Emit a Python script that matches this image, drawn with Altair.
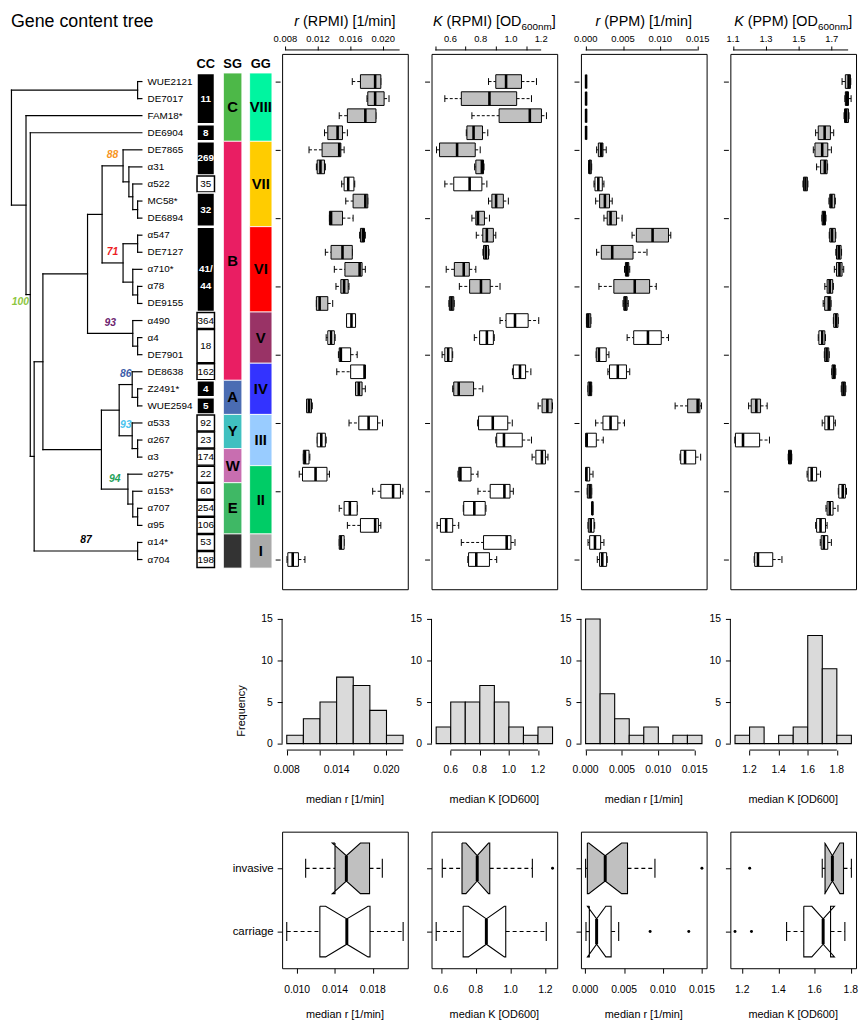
import math
import altair as alt
import pandas as pd

FONT = "Liberation Sans, Arial, Helvetica, sans-serif"
BOXGRAY = "#c0c0c0"
HISTGRAY = "#dadada"

# ------------------------------------------------------------------ strains
strains = ["WUE2121", "DE7017", "FAM18*", "DE6904", "DE7865", "α31", "α522", "MC58*",
           "DE6894", "α547", "DE7127", "α710*", "α78", "DE9155", "α490", "α4", "DE7901",
           "DE8638", "Z2491*", "WUE2594", "α533", "α267", "α3", "α275*", "α153*", "α707",
           "α95", "α14*", "α704"]
invasive = [1, 1, 1, 1, 1, 1, 0, 1, 1, 1, 1, 1, 1, 1, 0, 0, 0, 0, 1, 1, 0, 0, 0, 0, 0, 0, 0, 0, 0]

# ------------------------------------------------------------------ r (RPMI)
rR_lo = [.0162, .0180, .0146, .0128, .0109, .0118, .0149, .0154, .0134, .0171, .0129, .0140, .0142, .0118, .0155,
         .0130, .0145, .0143, .0166, .0106, .0158, .0119, .0102, .0097, .0187, .0146, .0156, .0146, .0082]
rR_q1 = [.0172, .0181, .0156, .0132, .0125, .0119, .0152, .0163, .0134, .0172, .0136, .0153, .0148, .0118, .0155,
         .0132, .0146, .0160, .0166, .0106, .0170, .0119, .0102, .0101, .0197, .0152, .0172, .0146, .0083]
rR_med = [.0190, .0190, .0178, .0144, .0146, .0123, .0157, .0178, .0136, .0175, .0150, .0171, .0152, .0122, .0161,
          .0136, .0148, .0177, .0170, .0109, .0182, .0124, .0104, .0117, .0212, .0159, .0190, .0148, .0089]
rR_q3 = [.0197, .0201, .0191, .0150, .0148, .0128, .0164, .0181, .0150, .0177, .0162, .0174, .0157, .0132, .0166,
         .0140, .0160, .0178, .0174, .0112, .0193, .0129, .0109, .0131, .0221, .0168, .0194, .0152, .0096]
rR_hi = [.0197, .0207, .0191, .0156, .0152, .0129, .0165, .0181, .0163, .0178, .0162, .0178, .0158, .0138, .0166,
         .0141, .0168, .0178, .0178, .0113, .0199, .0130, .0110, .0134, .0224, .0168, .0197, .0152, .0104]

# ------------------------------------------------------------------ K (RPMI)
kR_lo = [.852, .563, .742, .705, .508, .760, .563, .852, .742, .771, .815, .572, .659, .590, .928,
         .758, .545, 1.010, .615, 1.180, .780, .900, 1.140, .650, .782, .685, .512, .672, .715]
kR_q1 = [.900, .672, .922, .709, .528, .768, .622, .874, .768, .814, .819, .626, .727, .593, .968,
         .793, .563, 1.016, .622, 1.206, .786, .906, 1.165, .655, .863, .688, .534, .819, .720]
kR_med = [.968, .858, 1.125, .753, .644, .808, .727, .902, .782, .841, .834, .688, .802, .607, 1.027,
          .841, .585, 1.060, .655, 1.241, .880, .954, 1.205, .666, .957, .758, .572, .972, .771]
kR_q3 = [1.070, 1.038, 1.202, .812, .764, .819, .808, .950, .825, .884, .852, .725, .863, .622, 1.114,
         .884, .611, 1.097, .753, 1.272, .979, 1.075, 1.228, .736, .994, .830, .615, 1.000, .858]
kR_hi = [1.169, 1.136, 1.235, .847, .797, .822, .841, .983, .858, .900, .855, .768, .928, .625, 1.184,
         .890, .615, 1.132, .814, 1.275, 1.009, 1.136, 1.245, .782, 1.016, .835, .655, 1.027, .906]

# ------------------------------------------------------------------ r (PPM)
rP_lo = [0, 0, 0, 0, .00146, .0004, .00111, .00133, .00244, .00621, .00146, .0052, .00177, .0050, .0001,
         .00555, .0014, .00297, .0003, .01198, .00133, 0, .01264, 0, .0002, .00084, .0003, .00031, .00155]
rP_q1 = [.00002, .00002, .00002, .00002, .00169, .00044, .00124, .00186, .00288, .00679, .00209, .00532, .00377,
         .0051, .0001, .00643, .00142, .00319, .00031, .01366, .00231, 0, .01273, 0, .00022, .00084, .00035,
         .00053, .00186]
rP_med = [.00005, .00005, .00005, .00005, .00209, .0005, .00169, .00257, .00333, .00896, .00355, .00555, .00657,
          .00532, .00035, .00834, .00177, .0043, .00058, .0150, .00333, .00013, .01331, .0001, .00053, .00089,
          .00067, .00124, .00222]
rP_q3 = [.00008, .00008, .00008, .00008, .00231, .00075, .00222, .00319, .00413, .01109, .00634, .00577, .00856,
         .00555, .00067, .01012, .00275, .00546, .0008, .0153, .0043, .00142, .01473, .00053, .0008, .00093,
         .00111, .0020, .0028]
rP_hi = [.0001, .0001, .0001, .0001, .00275, .0008, .00244, .00355, .00488, .0114, .00821, .0059, .00945,
         .0057, .0007, .01109, .00311, .0059, .0008, .01552, .00519, .00235, .0154, .00098, .0008, .00093,
         .0012, .00244, .00288]

# ------------------------------------------------------------------ K (PPM)
kP_lo = [1.763, 1.780, 1.775, 1.602, 1.588, 1.608, 1.525, 1.683, 1.640, 1.685, 1.725, 1.716, 1.658, 1.648, 1.710,
         1.618, 1.655, 1.700, 1.758, 1.194, 1.642, 1.110, 1.435, 1.550, 1.740, 1.665, 1.602, 1.630, 1.228]
kP_q1 = [1.783, 1.783, 1.778, 1.618, 1.598, 1.632, 1.528, 1.688, 1.642, 1.688, 1.729, 1.729, 1.672, 1.657, 1.712,
         1.622, 1.657, 1.702, 1.761, 1.210, 1.658, 1.114, 1.437, 1.556, 1.743, 1.672, 1.608, 1.636, 1.231]
kP_med = [1.803, 1.792, 1.788, 1.657, 1.642, 1.658, 1.540, 1.698, 1.652, 1.702, 1.743, 1.747, 1.688, 1.682, 1.726,
          1.642, 1.669, 1.712, 1.772, 1.241, 1.682, 1.160, 1.445, 1.578, 1.767, 1.688, 1.632, 1.652, 1.251]
kP_q3 = [1.814, 1.802, 1.802, 1.692, 1.676, 1.672, 1.552, 1.718, 1.662, 1.722, 1.757, 1.763, 1.706, 1.694, 1.738,
         1.658, 1.682, 1.722, 1.783, 1.267, 1.712, 1.261, 1.455, 1.608, 1.783, 1.708, 1.662, 1.676, 1.341]
kP_hi = [1.816, 1.818, 1.805, 1.712, 1.698, 1.675, 1.555, 1.722, 1.665, 1.725, 1.760, 1.773, 1.710, 1.696, 1.740,
         1.662, 1.685, 1.725, 1.786, 1.307, 1.722, 1.321, 1.457, 1.632, 1.790, 1.738, 1.672, 1.698, 1.397]

# ------------------------------------------------------------------ histograms of medians
h1_breaks = [0.008, 0.010, 0.012, 0.014, 0.016, 0.018, 0.020, 0.022]
h1_counts = [1, 3, 5, 8, 7, 4, 1]
h2_breaks = [0.5, 0.6, 0.7, 0.8, 0.9, 1.0, 1.1, 1.2, 1.3]
h2_counts = [2, 5, 5, 7, 5, 2, 1, 2]
h3_breaks = [0.0, 0.002, 0.004, 0.006, 0.008, 0.010, 0.012, 0.014, 0.016]
h3_counts = [15, 6, 3, 1, 2, 0, 1, 1]
h4_breaks = [1.1, 1.2, 1.3, 1.4, 1.5, 1.6, 1.7, 1.8, 1.9]
h4_counts = [1, 2, 0, 1, 2, 13, 9, 1]

# ------------------------------------------------------------------ invasive vs carriage (order: invasive, carriage)
b1_lo = [0.0109, 0.0089]; b1_q1 = [0.0140, 0.0124]; b1_med = [0.0152, 0.01525]
b1_q3 = [0.01765, 0.0177]; b1_hi = [0.0190, 0.0212]; b1_out = [[], []]
b2_lo = [0.607, 0.572]; b2_q1 = [0.7205, 0.727]; b2_med = [0.808, 0.8605]
b2_q3 = [0.880, 0.972]; b2_hi = [1.125, 1.205]; b2_out = [[1.241], []]
b3_lo = [0.00005, 0.0001]; b3_q1 = [0.000275, 0.00053]; b3_med = [0.00257, 0.001465]
b3_q3 = [0.005435, 0.00333]; b3_hi = [0.00896, 0.0043]; b3_out = [[0.0150], [0.00834, 0.01331]]
b4_lo = [1.642, 1.445]; b4_q1 = [1.6575, 1.540]; b4_med = [1.698, 1.647]
b4_q3 = [1.7595, 1.688]; b4_hi = [1.803, 1.767]; b4_out = [[1.241], [1.160, 1.251]]
group_n = [15, 14]

# ------------------------------------------------------------------ gene content tree
tree_nodes = [  # name, node depth (x), children
    ("root", 3.3, ["nWD", "nRest"]),
    ("nWD", 133.3, ["WUE2121", "DE7017"]),
    ("nRest", 18.3, ["FAM18*", "nC"]),
    ("nC", 22.7, ["DE6904", "nX"]),
    ("nX", 26.7, ["nY", "n87"]),
    ("nY", 35.7, ["nZ", "nP"]),
    ("nZ", 81.7, ["nV", "nU"]),
    ("nV", 96.7, ["n88", "n71"]),
    ("n88", 118.3, ["DE7865", "n31"]),
    ("n31", 124.3, ["α31", "n522"]),
    ("n522", 128.3, ["α522", "nMD"]),
    ("nMD", 133.3, ["MC58*", "DE6894"]),
    ("n71", 118.3, ["nAD", "n710"]),
    ("nAD", 133.3, ["α547", "DE7127"]),
    ("n710", 128.3, ["α710*", "n78"]),
    ("n78", 133.3, ["α78", "DE9155"]),
    ("nU", 128.3, ["α490", "n4"]),
    ("n4", 133.3, ["α4", "DE7901"]),
    ("nP", 96.0, ["nQ", "nS"]),
    ("nQ", 114.3, ["nT", "nR"]),
    ("nT", 127.7, ["DE8638", "nZW"]),
    ("nZW", 133.3, ["Z2491*", "WUE2594"]),
    ("nR", 127.7, ["α533", "n267"]),
    ("n267", 133.3, ["α267", "α3"]),
    ("nS", 123.3, ["α275*", "n153"]),
    ("n153", 128.3, ["α153*", "n707"]),
    ("n707", 133.3, ["α707", "α95"]),
    ("n87", 133.3, ["α14*", "α704"]),
]
leaf_tip = 137.7
boot_node = ["n88", "n71", "nC", "nU", "nT", "nR", "nS", "n87"]
boot_text = ["88", "71", "100", "93", "86", "93", "94", "87"]
boot_color = ["#f7941d", "#ed1c24", "#8dc63f", "#6d2470", "#3b5ba9", "#4cc3ee", "#1fa25a", "#000000"]

cc_start = [1, 4, 5, 7, 8, 10, 15, 16, 18, 19, 20, 21, 22, 23, 24, 25, 26, 27, 28, 29]
cc_end = [3, 4, 6, 7, 9, 14, 15, 17, 18, 19, 20, 21, 22, 23, 24, 25, 26, 27, 28, 29]
cc_text = ["11", "8", "269", "35", "32", "41/\n44", "364", "18", "162", "4", "5", "92", "23", "174",
           "22", "60", "254", "106", "53", "198"]
cc_dark = [1, 1, 1, 0, 1, 1, 0, 0, 0, 1, 1, 0, 0, 0, 0, 0, 0, 0, 0, 0]

sg_start = [1, 5, 19, 21, 23, 25, 28]
sg_end = [4, 18, 20, 22, 24, 27, 29]
sg_text = ["C", "B", "A", "Y", "W", "E", ""]
sg_color = ["#4db848", "#e91e63", "#4a6cb3", "#40c0c0", "#c86eb0", "#3fb865", "#333333"]

gg_start = [1, 5, 10, 15, 18, 21, 24, 28]
gg_end = [4, 9, 14, 17, 20, 23, 27, 29]
gg_text = ["VIII", "VII", "VI", "V", "IV", "III", "II", "I"]
gg_color = ["#00f5a0", "#ffcc00", "#ff0000", "#993366", "#3333ff", "#99ccff", "#00cc66", "#aaaaaa"]

# ================================================================== layout constants
ROWS = list(range(1, 30))
ROW_DOMAIN = [-0.62, 30.74]
TOP_H = 541
PW = 127
TREE_W = 250
TREE_XDOM = [2.8, 257.7]
HIST_H = 185
HIST_YDOM = [-7.02, 15]
HIST_ZERO_PX = HIST_H * 15 / (15 - HIST_YDOM[0])
HIST_AXIS_PX = HIST_ZERO_PX + 6.5
BOT_H = 138
ONE = pd.DataFrame({"k": [0]})

AW = {" ": 278, "(": 333, ")": 333, "[": 278, "]": 278, "/": 278, "R": 722, "P": 667, "M": 833,
      "I": 278, "O": 778, "D": 722, "K": 667, "r": 333, "m": 833, "i": 222, "n": 556}


def tw(s, size):
    return sum(AW.get(ch, 556) for ch in s) * size / 1000.0


def text_layer(txt, x, y, size, weight="normal", style="normal", align="left",
               baseline="alphabetic", color="black", angle=0):
    return alt.Chart(ONE).mark_text(text=txt, align=align, baseline=baseline, fontSize=size, font=FONT,
                                    fontWeight=weight, fontStyle=style, color=color, angle=angle).encode(
        x=alt.value(x), y=alt.value(y))


def title_layers(pieces, width):
    sizes = {"it": 14.5, "rm": 14.5, "sub": 10.0}
    total = sum(tw(t, sizes[k]) for t, k in pieces)
    x = width / 2.0 - total / 2.0
    out = []
    for t, k in pieces:
        lead = len(t) - len(t.lstrip(" "))
        xs = x + tw(" " * lead, sizes[k])
        body = t.strip(" ")
        if body:
            out.append(text_layer(body, xs, -28.5 if k != "sub" else -24.5, sizes[k],
                                  style="italic" if k == "it" else "normal"))
        x += tw(t, sizes[k])
    return out


def tick_labels(labeled, fmt, y, size):
    df = pd.DataFrame({"v": labeled, "t": [format(v, fmt) for v in labeled]})
    return alt.Chart(df).mark_text(align="center", baseline="middle", fontSize=size, font=FONT,
                                   color="black").encode(x="v:Q", y=alt.value(y), text="t:N")


def y_rows():
    return alt.Scale(domain=ROW_DOMAIN, reverse=True, nice=False, zero=False)


# ================================================================== top box plot panels
def top_panel(lo, q1, med, q3, hi, domain, ticks, labeled, fmt, pieces):
    df = pd.DataFrame({"row": ROWS, "lo": lo, "q1": q1, "med": med, "q3": q3, "hi": hi,
                       "fill": [BOXGRAY if v else "white" for v in invasive]})
    df["b0"] = df["row"] - 0.4
    df["b1"] = df["row"] + 0.4
    df["c0"] = df["row"] - 0.2
    df["c1"] = df["row"] + 0.2
    xs = alt.Scale(domain=domain, nice=False, zero=False)
    xaxis = alt.Axis(orient="top", values=ticks, labels=False, domain=False, tickSize=4, offset=4,
                     title=None, grid=False)
    yaxis = alt.Axis(orient="left", values=ROWS, labels=False, domain=False, tickSize=5, offset=2,
                     title=None, grid=False)
    base = alt.Chart(df)
    w1 = base.mark_rule(strokeDash=[3, 2], color="black", strokeWidth=1).encode(
        x=alt.X("lo:Q", scale=xs, axis=xaxis), x2="q1:Q",
        y=alt.Y("row:Q", scale=y_rows(), axis=yaxis))
    w2 = base.mark_rule(strokeDash=[3, 2], color="black", strokeWidth=1).encode(
        x="q3:Q", x2="hi:Q", y="row:Q")
    c1 = base.mark_rule(color="black", strokeWidth=1).encode(x="lo:Q", y="c0:Q", y2="c1:Q")
    c2 = base.mark_rule(color="black", strokeWidth=1).encode(x="hi:Q", y="c0:Q", y2="c1:Q")
    box = base.mark_rect(stroke="black", strokeWidth=1).encode(
        x="q1:Q", x2="q3:Q", y="b0:Q", y2="b1:Q", fill=alt.Fill("fill:N", scale=None))
    md = base.mark_rule(color="black", strokeWidth=2.6).encode(x="med:Q", y="b0:Q", y2="b1:Q")
    axline = alt.Chart(pd.DataFrame({"a": [ticks[0]], "b": [ticks[-1]]})).mark_rule(
        color="black", strokeWidth=1).encode(x="a:Q", x2="b:Q", y=alt.value(-4))
    labels = tick_labels(labeled, fmt, -15.5, 9.5)
    layers = [w1, w2, c1, c2, box, md, axline, labels] + title_layers(pieces, PW)
    return alt.layer(*layers).properties(width=PW, height=TOP_H,
                                         view=alt.ViewBackground(stroke="black", strokeWidth=1))


p1 = top_panel(rR_lo, rR_q1, rR_med, rR_q3, rR_hi, [0.0076, 0.0230],
               [0.008, 0.010, 0.012, 0.014, 0.016, 0.018, 0.020, 0.022], [0.008, 0.012, 0.016, 0.020],
               ".3f", [("r", "it"), (" (RPMI) [1/min]", "rm")])
p2 = top_panel(kR_lo, kR_q1, kR_med, kR_q3, kR_hi, [0.475, 1.306],
               [0.5, 0.6, 0.7, 0.8, 0.9, 1.0, 1.1, 1.2], [0.6, 0.8, 1.0, 1.2],
               ".1f", [("K", "it"), (" (RPMI) [OD", "rm"), ("600nm", "sub"), ("]", "rm")])
p3 = top_panel(rP_lo, rP_q1, rP_med, rP_q3, rP_hi, [-0.00064, 0.0162],
               [0.0, 0.005, 0.010, 0.015], [0.0, 0.005, 0.010, 0.015],
               ".3f", [("r", "it"), (" (PPM) [1/min]", "rm")])
p4 = top_panel(kP_lo, kP_q1, kP_med, kP_q3, kP_hi, [1.083, 1.848],
               [1.1, 1.2, 1.3, 1.4, 1.5, 1.6, 1.7, 1.8], [1.1, 1.3, 1.5, 1.7],
               ".1f", [("K", "it"), (" (PPM) [OD", "rm"), ("600nm", "sub"), ("]", "rm")])

# ================================================================== tree panel
ypos = {s: float(i + 1) for i, s in enumerate(strains)}
xpos = {s: leaf_tip for s in strains}
node_map = {n: (x, ch) for n, x, ch in tree_nodes}
parent = {}
for n, x, ch in tree_nodes:
    for c in ch:
        parent[c] = n


def place(n):
    if n in ypos:
        return ypos[n]
    x, ch = node_map[n]
    ys = [place(c) for c in ch]
    ypos[n] = sum(ys) / len(ys)
    xpos[n] = x
    return ypos[n]


place("root")
segs = []
for n, x, ch in tree_nodes:
    ys = [ypos[c] for c in ch]
    segs.append((x, x, min(ys), max(ys)))
    for c in ch:
        segs.append((x, xpos[c], ypos[c], ypos[c]))
seg_df = pd.DataFrame(segs, columns=["x", "x2", "y", "y2"])

txs = alt.Scale(domain=TREE_XDOM, nice=False, zero=False)
tree_lines = alt.Chart(seg_df).mark_rule(color="black", strokeWidth=1.2, strokeCap="square").encode(
    x=alt.X("x:Q", scale=txs, axis=None), x2="x2:Q",
    y=alt.Y("y:Q", scale=y_rows(), axis=None), y2="y2:Q")

leaf_df = pd.DataFrame({"name": strains, "row": ROWS})
leaf_text = alt.Chart(leaf_df).mark_text(align="left", baseline="middle", font=FONT, fontSize=10,
                                         color="black").encode(
    x=alt.datum(143.5), y="row:Q", text="name:N")

bx, by = [], []
for n in boot_node:
    if n == "nC":
        bx.append(xpos[n] - 1.2)
        by.append(ypos[n] + 0.42)
    else:
        bx.append((xpos[parent[n]] + xpos[n]) / 2.0)
        by.append(ypos[n] - 0.62)
boot_df = pd.DataFrame({"x": bx, "y": by, "t": boot_text, "c": boot_color, "n": boot_node})
boot_main = alt.Chart(boot_df).transform_filter("datum.n != 'nC'").mark_text(
    align="center", baseline="middle", font=FONT, fontSize=10.5, fontWeight="bold", fontStyle="italic").encode(
    x="x:Q", y="y:Q", text="t:N", color=alt.Color("c:N", scale=None))
boot_root = alt.Chart(boot_df).transform_filter("datum.n == 'nC'").mark_text(
    align="right", baseline="middle", font=FONT, fontSize=10.5, fontWeight="bold", fontStyle="italic").encode(
    x="x:Q", y="y:Q", text="t:N", color=alt.Color("c:N", scale=None))

cc_df = pd.DataFrame({"s": cc_start, "e": cc_end, "t": cc_text, "d": cc_dark})
cc_df["y0"] = cc_df["s"] - 0.47
cc_df["y1"] = cc_df["e"] + 0.47
cc_df["ym"] = (cc_df["s"] + cc_df["e"]) / 2.0
cc_df["fill"] = ["black" if d else "white" for d in cc_dark]
cc_df["stroke"] = ["white" if d else "black" for d in cc_dark]
cc_rect = alt.Chart(cc_df).mark_rect(strokeWidth=1.5).encode(
    x=alt.datum(194.5), x2=alt.datum(212.5), y="y0:Q", y2="y1:Q",
    fill=alt.Fill("fill:N", scale=None), stroke=alt.Stroke("stroke:N", scale=None))
cc_dark_txt = alt.Chart(cc_df).transform_filter("datum.d == 1").mark_text(
    align="center", baseline="middle", font=FONT, fontSize=10, fontWeight="bold", color="white",
    lineBreak="\n", lineHeight=17).encode(x=alt.datum(203.5), y="ym:Q", text="t:N")
cc_light_txt = alt.Chart(cc_df).transform_filter("datum.d == 0").mark_text(
    align="center", baseline="middle", font=FONT, fontSize=10, color="black").encode(
    x=alt.datum(203.5), y="ym:Q", text="t:N")

sg_df = pd.DataFrame({"s": sg_start, "e": sg_end, "t": sg_text, "c": sg_color})
sg_df["y0"] = sg_df["s"] - 0.5
sg_df["y1"] = sg_df["e"] + 0.5
sg_df["ym"] = (sg_df["s"] + sg_df["e"]) / 2.0
sg_rect = alt.Chart(sg_df).mark_rect(stroke="white", strokeWidth=0.8).encode(
    x=alt.datum(221.7), x2=alt.datum(240.7), y="y0:Q", y2="y1:Q", fill=alt.Fill("c:N", scale=None))
sg_txt = alt.Chart(sg_df).mark_text(align="center", baseline="middle", font=FONT, fontSize=15,
                                    fontWeight="bold", color="black").encode(
    x=alt.datum(231.2), y="ym:Q", text="t:N")

gg_df = pd.DataFrame({"s": gg_start, "e": gg_end, "t": gg_text, "c": gg_color})
gg_df["y0"] = gg_df["s"] - 0.5
gg_df["y1"] = gg_df["e"] + 0.5
gg_df["ym"] = (gg_df["s"] + gg_df["e"]) / 2.0
gg_rect = alt.Chart(gg_df).mark_rect(stroke="white", strokeWidth=0.8).encode(
    x=alt.datum(248.7), x2=alt.datum(271.7), y="y0:Q", y2="y1:Q", fill=alt.Fill("c:N", scale=None))
gg_txt = alt.Chart(gg_df).mark_text(align="center", baseline="middle", font=FONT, fontSize=15,
                                    fontWeight="bold", color="black").encode(
    x=alt.datum(260.2), y="ym:Q", text="t:N")

hdr_df = pd.DataFrame({"x": [203.5, 231.2, 260.2], "t": ["CC", "SG", "GG"]})
hdr_txt = alt.Chart(hdr_df).mark_text(align="center", baseline="middle", font=FONT, fontSize=13,
                                      fontWeight="bold", color="black").encode(
    x="x:Q", y=alt.value(10), text="t:N")

tree_title = text_layer("Gene content tree", 0, -41, 18, baseline="top")

tree_panel = alt.layer(tree_lines, leaf_text, boot_main, boot_root, cc_rect, cc_dark_txt, cc_light_txt,
                       sg_rect, sg_txt, gg_rect, gg_txt, hdr_txt, tree_title).properties(
    width=TREE_W, height=TOP_H)


# ================================================================== histograms
def hist_panel(breaks, counts, domain, ticks, labeled, fmt, xtitle, first):
    df = pd.DataFrame({"a": breaks[:-1], "b": breaks[1:], "n": counts})
    df["z"] = 0
    xs = alt.Scale(domain=domain, nice=False, zero=False)
    ys = alt.Scale(domain=HIST_YDOM, nice=False, zero=False)
    xaxis = alt.Axis(orient="bottom", values=ticks, labels=False, domain=False, tickSize=5,
                     offset=-(HIST_H - HIST_AXIS_PX), title=None, grid=False)
    if first:
        yaxis = alt.Axis(orient="left", values=[0, 5, 10, 15], domain=False, tickSize=5, labelPadding=5,
                         labelFontSize=10.5, title="Frequency", titlePadding=14, titleFontSize=11,
                         grid=False, labelFlush=False, titleFontWeight="normal")
    else:
        yaxis = alt.Axis(orient="left", values=[0, 5, 10, 15], domain=False, tickSize=5, labelPadding=5,
                         labelFontSize=10.5, title=None, grid=False, labelFlush=False)
    bars = alt.Chart(df).mark_rect(fill=HISTGRAY, stroke="black", strokeWidth=1.1).encode(
        x=alt.X("a:Q", scale=xs, axis=xaxis), x2="b:Q",
        y=alt.Y("z:Q", scale=ys, axis=yaxis), y2="n:Q")
    xline = alt.Chart(pd.DataFrame({"a": [ticks[0]], "b": [ticks[-1]]})).mark_rule(
        color="black", strokeWidth=1).encode(x="a:Q", x2="b:Q", y=alt.value(HIST_AXIS_PX))
    yline = alt.Chart(pd.DataFrame({"a": [0], "b": [15]})).mark_rule(color="black", strokeWidth=1).encode(
        y="a:Q", y2="b:Q", x=alt.value(0))
    labels = tick_labels(labeled, fmt, HIST_AXIS_PX + 20, 10.5)
    title = text_layer(xtitle, PW / 2.0, HIST_AXIS_PX + 51, 11, align="center", baseline="middle")
    return alt.layer(bars, xline, yline, labels, title).properties(width=PW, height=HIST_H)


h1 = hist_panel(h1_breaks, h1_counts, [0.00744, 0.02256],
                [0.008, 0.010, 0.012, 0.014, 0.016, 0.018, 0.020, 0.022], [0.008, 0.014, 0.020], ".3f",
                "median r [1/min]", True)
h2 = hist_panel(h2_breaks, h2_counts, [0.468, 1.332], [0.6, 0.8, 1.0, 1.2], [0.6, 0.8, 1.0, 1.2], ".1f",
                "median K [OD600]", False)
h3 = hist_panel(h3_breaks, h3_counts, [-0.00064, 0.01664], [0.0, 0.005, 0.010, 0.015],
                [0.0, 0.005, 0.010, 0.015], ".3f", "median r [1/min]", False)
h4 = hist_panel(h4_breaks, h4_counts, [1.068, 1.932], [1.2, 1.4, 1.6, 1.8], [1.2, 1.4, 1.6, 1.8], ".1f",
                "median K [OD600]", False)


# ================================================================== notched box plots
def bottom_panel(lo, q1, med, q3, hi, outs, domain, ticks, labeled, fmt, xtitle, first):
    gy = [2, 1]
    df = pd.DataFrame({"gy": gy, "lo": lo, "q1": q1, "med": med, "q3": q3, "hi": hi})
    df["c0"] = df["gy"] - 0.15
    df["c1"] = df["gy"] + 0.15
    df["m0"] = df["gy"] - 0.2
    df["m1"] = df["gy"] + 0.2
    polys = []
    for i in range(2):
        h = 1.58 * (q3[i] - q1[i]) / math.sqrt(group_n[i])
        nl, nh = med[i] - h, med[i] + h
        w, wn, g = 0.4, 0.2, gy[i]
        pts = [(q1[i], g + w), (nl, g + w), (med[i], g + wn), (nh, g + w), (q3[i], g + w),
               (q3[i], g - w), (nh, g - w), (med[i], g - wn), (nl, g - w), (q1[i], g - w), (q1[i], g + w)]
        polys.append(pd.DataFrame({"px": [p[0] for p in pts], "py": [p[1] for p in pts],
                                   "o": list(range(len(pts)))}))
    out_rows = [(v, gy[i]) for i in range(2) for v in outs[i]]

    xs = alt.Scale(domain=domain, nice=False, zero=False)
    ys = alt.Scale(domain=[0.42, 2.58], nice=False, zero=False)
    xaxis = alt.Axis(orient="bottom", values=ticks, labels=False, domain=False, tickSize=5,
                     title=None, grid=False)
    yaxis = alt.Axis(orient="left", values=[1, 2], domain=False, tickSize=5, labelPadding=4,
                     labelFontSize=11.5, title=None, grid=False, labels=bool(first),
                     labelExpr="datum.value == 2 ? 'invasive' : 'carriage'", labelFlush=False)
    base = alt.Chart(df)
    w1 = base.mark_rule(strokeDash=[4, 3], color="black", strokeWidth=1.1).encode(
        x=alt.X("lo:Q", scale=xs, axis=xaxis), x2="q1:Q", y=alt.Y("gy:Q", scale=ys, axis=yaxis))
    w2 = base.mark_rule(strokeDash=[4, 3], color="black", strokeWidth=1.1).encode(
        x="q3:Q", x2="hi:Q", y="gy:Q")
    s1 = base.mark_rule(color="black", strokeWidth=1.1).encode(x="lo:Q", y="c0:Q", y2="c1:Q")
    s2 = base.mark_rule(color="black", strokeWidth=1.1).encode(x="hi:Q", y="c0:Q", y2="c1:Q")
    box_inv = alt.Chart(polys[0]).mark_line(fill=BOXGRAY, stroke="black", strokeWidth=1.1).encode(
        x="px:Q", y="py:Q", order="o:Q")
    box_car = alt.Chart(polys[1]).mark_line(fill="white", stroke="black", strokeWidth=1.1).encode(
        x="px:Q", y="py:Q", order="o:Q")
    md = base.mark_rule(color="black", strokeWidth=3).encode(x="med:Q", y="m0:Q", y2="m1:Q")
    labels = tick_labels(labeled, fmt, BOT_H + 22, 10.5)
    title = text_layer(xtitle, PW / 2.0, BOT_H + 47, 11, align="center", baseline="middle")
    layers = [w1, w2, s1, s2, box_inv, box_car, md, labels, title]
    if out_rows:
        out_df = pd.DataFrame(out_rows, columns=["v", "gy"])
        layers.append(alt.Chart(out_df).mark_circle(size=9, color="black", opacity=1).encode(
            x="v:Q", y="gy:Q"))
    return alt.layer(*layers).properties(width=PW, height=BOT_H,
                                         view=alt.ViewBackground(stroke="black", strokeWidth=1))


b1 = bottom_panel(b1_lo, b1_q1, b1_med, b1_q3, b1_hi, b1_out, [0.00841, 0.02169],
                  [0.010, 0.012, 0.014, 0.016, 0.018, 0.020], [0.010, 0.014, 0.018], ".3f",
                  "median r [1/min]", True)
b2 = bottom_panel(b2_lo, b2_q1, b2_med, b2_q3, b2_hi, b2_out, [0.5452, 1.2678],
                  [0.6, 0.7, 0.8, 0.9, 1.0, 1.1, 1.2], [0.6, 0.8, 1.0, 1.2], ".1f", "median K [OD600]", False)
b3 = bottom_panel(b3_lo, b3_q1, b3_med, b3_q3, b3_hi, b3_out, [-0.00055, 0.0156],
                  [0.0, 0.005, 0.010, 0.015], [0.0, 0.005, 0.010, 0.015], ".3f", "median r [1/min]", False)
b4 = bottom_panel(b4_lo, b4_q1, b4_med, b4_q3, b4_hi, b4_out, [1.1343, 1.8287],
                  [1.2, 1.3, 1.4, 1.5, 1.6, 1.7, 1.8], [1.2, 1.4, 1.6, 1.8], ".1f", "median K [OD600]", False)


def spacer(h):
    return alt.Chart(ONE).mark_point(opacity=0).encode(x=alt.value(0), y=alt.value(0)).properties(
        width=TREE_W, height=h)


chart = alt.concat(
    tree_panel, p1, p2, p3, p4,
    spacer(10), h1, h2, h3, h4,
    spacer(10), b1, b2, b3, b4,
    columns=5, spacing={"row": 30, "column": 24}, bounds="flush", align="each", padding=0
).configure_view(strokeWidth=0).configure_axis(
    labelColor="black", tickColor="black", titleColor="black", domainColor="black",
    labelFont=FONT, titleFont=FONT, tickWidth=1
)

chart.save("out.html", embed_options={"renderer": "svg", "actions": False})
